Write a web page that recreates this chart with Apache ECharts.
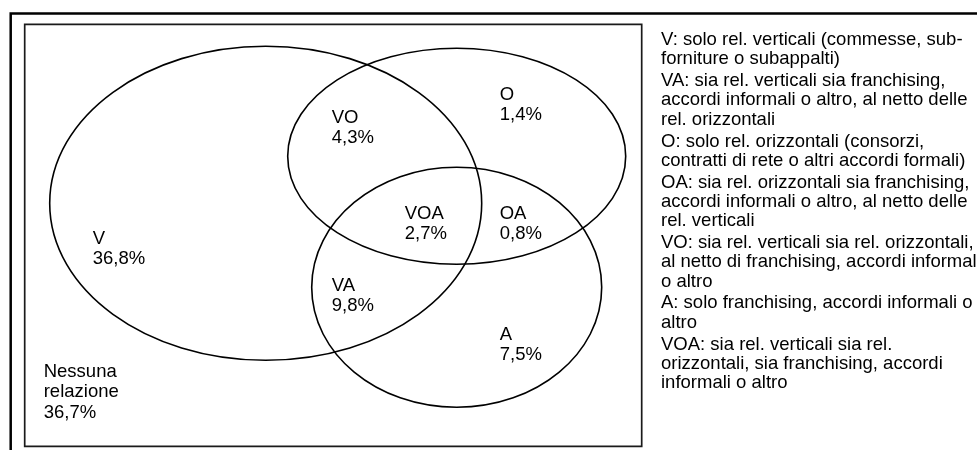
<!DOCTYPE html>
<html>
<head>
<meta charset="utf-8">
<script src="https://cdn.jsdelivr.net/npm/echarts@6/dist/echarts.min.js"></script>
<style>
  html, body { margin: 0; padding: 0; background: #fff; }
  #chart { width: 977px; height: 450px; }
</style>
</head>
<body>
<div id="chart"></div>
<script>
// insiemi del diagramma (unità degli assi nascosti)
const setNames = ['V', 'O', 'A'];
const setCenterX = [241, 432, 432];
const setCenterY = [179, 132, 263];
const setRadiusX = [216, 169, 145];
const setRadiusY = [157, 108, 120];

// regioni del diagramma e quote (%)
const regionNames = ['VO', 'O', 'VOA', 'OA', 'V', 'VA', 'A', 'Nessuna\nrelazione'];
const regionShares = [4.3, 1.4, 2.7, 0.8, 36.8, 9.8, 7.5, 36.7];
const regionLabelX = [307, 475, 380, 475, 68, 307, 475, 19];
const regionLabelY = [93.5, 70.5, 189.5, 189.5, 214.5, 261.5, 310.5, 347.5];

// descrizioni a destra
const legendTexts = [
  'V: solo rel. verticali (commesse, sub-\nforniture o subappalti)',
  'VA: sia rel. verticali sia franchising,\naccordi informali o altro, al netto delle\nrel. orizzontali',
  'O: solo rel. orizzontali (consorzi,\ncontratti di rete o altri accordi formali)',
  'OA: sia rel. orizzontali sia franchising,\naccordi informali o altro, al netto delle\nrel. verticali',
  'VO: sia rel. verticali sia rel. orizzontali,\nal netto di franchising, accordi informali\no altro',
  'A: solo franchising, accordi informali o\naltro',
  'VOA: sia rel. verticali sia rel.\norizzontali, sia franchising, accordi\ninformali o altro'
];

const FONT = '"Liberation Sans", Arial, sans-serif';
const FONT_SIZE = 18.5;
const LABEL_LH = 20.5;
const LEGEND_LH = 19.3;
const LEGEND_GAP = 2.5;

const fmtPct = (v) => v.toFixed(1).replace('.', ',') + '%';

// blocco di testo a destra, paragrafo per paragrafo
const legendEls = [];
let legendTop = 40 - LEGEND_LH / 2;
legendTexts.forEach((t) => {
  legendEls.push({
    type: 'text',
    left: 661,
    top: legendTop,
    style: { text: t, fill: '#000', fontSize: FONT_SIZE, fontFamily: FONT, lineHeight: LEGEND_LH }
  });
  legendTop += t.split('\n').length * LEGEND_LH + LEGEND_GAP;
});

const chart = echarts.init(document.getElementById('chart'), null, { renderer: 'canvas' });

chart.setOption({
  animation: false,
  backgroundColor: '#fff',
  grid: {
    left: 24.7, top: 24.3, width: 617, height: 422,
    show: true, borderColor: '#1a1a1a', borderWidth: 1.7
  },
  xAxis: { type: 'value', min: 0, max: 617, show: false },
  yAxis: { type: 'value', min: 0, max: 422, inverse: true, show: false },
  graphic: [
    {
      type: 'polyline',
      shape: { points: [[10.7, 480], [10.7, 13.4], [1000, 13.4]] },
      style: { stroke: '#000', lineWidth: 2.5, fill: null }
    }
  ].concat(legendEls),
  series: [
    {
      type: 'custom',
      name: 'insiemi',
      clip: false,
      encode: { x: 0, y: 1 },
      data: setNames.map((n, i) => [setCenterX[i], setCenterY[i], setRadiusX[i], setRadiusY[i]]),
      renderItem: (params, api) => {
        const c = api.coord([api.value(0), api.value(1)]);
        const s = api.size([api.value(2) * 2, api.value(3) * 2], [api.value(0), api.value(1)]);
        return {
          type: 'ellipse',
          shape: { cx: c[0], cy: c[1], rx: s[0] / 2, ry: s[1] / 2 },
          style: { fill: 'none', stroke: '#000', lineWidth: 1.6 }
        };
      }
    },
    {
      type: 'custom',
      name: 'regioni',
      clip: false,
      encode: { x: 0, y: 1 },
      data: regionNames.map((n, i) => [regionLabelX[i], regionLabelY[i], regionShares[i]]),
      renderItem: (params, api) => {
        const c = api.coord([api.value(0), api.value(1)]);
        return {
          type: 'text',
          x: c[0],
          y: c[1] - LABEL_LH / 2,
          style: {
            text: regionNames[params.dataIndex] + '\n' + fmtPct(api.value(2)),
            fill: '#000',
            fontSize: FONT_SIZE,
            fontFamily: FONT,
            lineHeight: LABEL_LH,
            align: 'left',
            verticalAlign: 'top'
          }
        };
      }
    }
  ]
});
</script>
</body>
</html>
